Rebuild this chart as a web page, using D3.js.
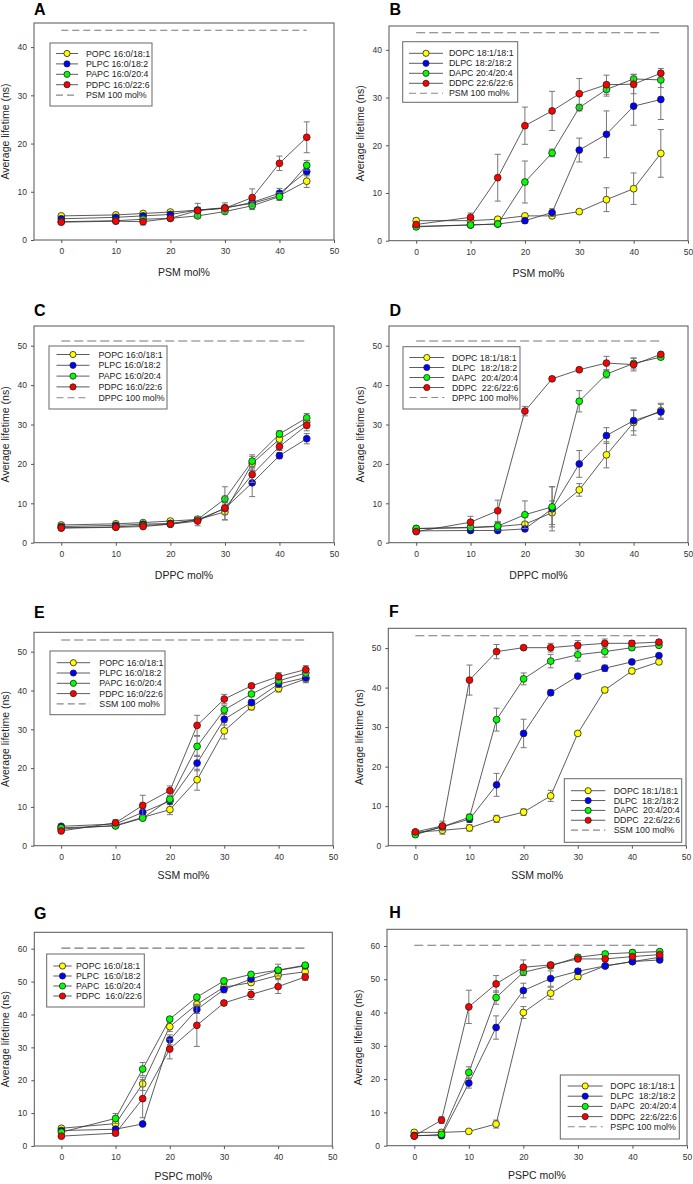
<!DOCTYPE html>
<html><head><meta charset="utf-8">
<script src="https://cdn.jsdelivr.net/npm/d3@7"></script>
<style>
body{margin:0;background:#fff}
svg{display:block}
text{font-family:"Liberation Sans",Arial,Helvetica,sans-serif}
</style>
</head><body>
<svg id="c" width="693" height="1184"></svg>
<script>
// ---------- data ----------
const seriesColors = ["#ffff00","#0000ff","#00ff00","#ff0000"];
const xTickValues = [0,10,20,30,40,50];
const yTicks45 = [0,10,20,30,40];
const yTicks55 = [0,10,20,30,40,50];
const yTicks65 = [0,10,20,30,40,50,60];

const xNo5 = [0,10,15,20,25,30,35,40,45];
const xWith5 = [0,5,10,15,20,25,30,35,40,45];

const namesMixed = ["POPC 16:0/18:1","PLPC 16:0/18:2","PAPC 16:0/20:4","PDPC 16:0/22:6"];
const namesMixedG = ["POPC 16:0/18:1","PLPC  16:0/18:2","PAPC  16:0/20:4","PDPC  16:0/22:6"];
const namesDi = ["DOPC 18:1/18:1","DLPC 18:2/18:2","DAPC 20:4/20:4","DDPC 22:6/22:6"];
const namesDi2 = ["DOPC 18:1/18:1","DLPC  18:2/18:2","DAPC  20:4/20:4","DDPC  22:6/22:6"];

// Panel A (PSM)
const aPOPC = [5.0,5.2,5.5,5.8,6.2,6.7,7.6,9.2,12.2];
const aPOPCe = [0.3,0.3,0.3,0.3,0.5,0.5,0.6,0.7,1.3];
const aPLPC = [4.4,4.7,5.0,5.3,6.2,6.6,7.8,9.7,14.2];
const aPLPCe = [0.2,0.2,0.3,0.3,0.4,0.4,0.6,1.0,0.9];
const aPAPC = [3.8,4.0,4.3,4.5,5.0,5.9,7.1,9.0,15.5];
const aPAPCe = [0.2,0.2,0.3,0.3,0.4,0.4,0.8,0.8,1.0];
const aPDPC = [3.7,3.9,3.8,4.5,6.1,6.6,8.8,15.9,21.3];
const aPDPCe = [0.2,0.3,0.7,0.3,1.5,1.1,1.8,1.5,3.2];
const aRef = 43.5;

// Panel B (PSM)
const bDOPC = [4.2,4.2,4.5,5.2,5.2,6.1,8.6,10.9,18.3];
const bDOPCe = [0.5,0.6,0.4,0.4,0.4,0.3,2.5,3.3,5.0];
const bDLPC = [3.0,3.3,3.5,4.2,5.9,19.0,22.3,28.2,29.6];
const bDLPCe = [0.2,0.3,0.3,0.5,0.8,2.5,4.9,4.0,4.2];
const bDAPC = [2.9,3.3,3.5,12.3,18.4,27.9,31.7,33.9,33.7];
const bDAPCe = [0.2,0.3,0.3,4.4,0.8,0.7,1.4,1.0,1.6];
const bDDPC = [3.4,4.9,13.2,24.1,27.2,30.8,32.7,32.8,35.1];
const bDDPCe = [0.3,0.9,4.9,3.9,4.1,3.2,2.0,2.0,1.0];
const bRef = 43.6;

// Panel C (DPPC)
const cPOPC = [4.5,4.8,5.1,5.5,5.9,7.8,20.1,26.3,30.6];
const cPOPCe = [0.3,0.3,0.3,0.3,0.6,2.0,1.8,1.0,1.5];
const cPLPC = [4.1,4.4,4.7,4.9,5.8,8.7,15.2,22.1,26.4];
const cPLPCe = [0.2,0.2,0.3,0.3,0.5,1.5,3.5,0.8,1.3];
const cPAPC = [3.8,4.0,4.4,4.7,5.9,11.1,20.7,27.6,31.7];
const cPAPCe = [0.2,0.2,0.3,0.3,0.7,3.1,1.6,0.8,1.1];
const cPDPC = [3.7,3.9,4.1,4.7,5.5,8.8,17.3,24.4,29.8];
const cPDPCe = [0.2,0.2,0.3,0.3,1.2,3.0,2.0,1.0,1.4];
const cRef = 51.2;

// Panel D (DPPC)
const dDOPC = [3.6,3.8,4.1,4.7,7.6,13.4,22.3,30.5,33.5];
const dDOPCe = [0.3,0.4,1.0,0.5,3.0,1.6,3.3,3.2,1.9];
const dDLPC = [3.0,3.1,3.1,3.5,8.6,20.0,27.2,31.0,33.2];
const dDLPCe = [0.3,0.3,0.3,0.4,5.6,3.4,2.0,2.6,1.9];
const dDAPC = [3.6,3.9,4.2,7.1,9.1,35.9,42.8,45.5,47.1];
const dDAPCe = [0.3,0.4,1.0,3.5,5.1,2.7,1.0,1.4,0.6];
const dDDPC = [2.8,5.2,8.1,33.4,41.6,43.9,45.6,45.2,47.8];
const dDDPCe = [0.3,1.5,2.7,1.2,0.5,0.4,1.7,1.6,0.5];
const dRef = 51.2;

// Panel E (SSM)
const ePOPC = [4.3,5.2,7.3,9.3,17.0,29.6,35.8,40.5,43.0];
const ePOPCe = [0.3,0.4,0.5,1.3,2.7,2.1,0.8,0.9,1.0];
const ePLPC = [5.0,5.6,8.6,11.5,21.3,32.6,36.9,41.7,43.3];
const ePLPCe = [0.3,0.4,1.0,0.8,2.0,1.5,0.8,0.9,1.0];
const ePAPC = [4.6,5.1,7.1,12.0,25.6,35.0,39.1,42.5,44.5];
const ePAPCe = [0.3,0.4,0.5,0.8,2.6,1.2,0.6,0.8,0.9];
const ePDPC = [3.8,5.9,10.4,14.2,31.0,37.8,41.2,43.6,45.4];
const ePDPCe = [0.3,0.8,2.6,1.2,2.6,1.2,0.4,1.0,1.0];
const eRef = 53.0;

// Panel F (SSM)
const fDOPC = [3.4,3.9,4.5,6.8,8.5,12.6,28.4,39.4,44.2,46.5];
const fDOPCe = [0.3,1.0,0.8,0.9,0.8,1.4,0.4,0.6,0.7,0.6];
const fDLPC = [3.0,4.8,6.7,15.4,28.4,38.7,42.9,44.9,46.5,48.1];
const fDLPCe = [0.3,0.6,0.8,2.9,3.6,0.7,0.5,0.8,0.5,0.5];
const fDAPC = [2.8,4.8,7.2,31.9,42.2,46.7,48.3,49.1,50.1,50.7];
const fDAPCe = [0.3,0.6,0.8,2.9,1.5,1.7,1.6,1.4,0.6,0.6];
const fDDPC = [3.5,5.0,41.9,49.1,50.1,50.1,50.7,51.2,51.2,51.5];
const fDDPCe = [0.3,1.2,3.8,1.8,0.4,1.1,1.2,1.1,0.7,0.5];
const fRef = 53.1;

// Panel G (PSPC)
const gPOPC = [5.4,6.8,18.9,36.3,43.1,48.3,49.7,51.9,53.0];
const gPOPCe = [0.4,0.6,2.0,1.5,1.2,0.8,0.6,0.8,1.0];
const gPLPC = [4.7,5.1,6.7,32.3,41.5,47.6,50.8,53.4,54.8];
const gPLPCe = [0.3,0.5,0.4,1.5,1.2,1.0,0.8,0.8,0.5];
const gPAPC = [4.2,8.4,23.4,38.6,45.3,50.2,52.2,53.5,55.0];
const gPAPCe = [0.3,1.5,2.0,0.6,0.6,0.8,0.6,1.8,0.6];
const gPDPC = [3.0,3.9,14.4,29.5,36.7,43.5,46.1,48.5,51.4];
const gPDPCe = [0.3,0.6,5.8,3.0,6.4,0.6,1.5,2.1,1.0];
const gRef = 60.2;

// Panel H (PSPC)
const hDOPC = [4.0,4.0,4.3,6.5,40.0,45.8,50.8,54.0,55.3,56.6];
const hDOPCe = [0.3,0.3,0.4,1.2,1.8,1.8,0.8,0.6,0.6,0.6];
const hDLPC = [3.1,3.0,18.8,35.5,46.6,50.2,52.4,54.0,55.3,55.8];
const hDLPCe = [0.3,0.3,1.5,3.5,2.2,2.3,0.8,0.6,0.6,0.6];
const hDAPC = [2.9,3.4,22.0,44.5,52.1,54.0,56.6,57.6,58.0,58.3];
const hDAPCe = [0.3,0.4,1.7,2.0,1.0,0.6,0.6,0.6,0.8,0.5];
const hDDPC = [2.9,7.7,41.7,48.6,53.6,54.3,56.1,56.1,56.8,57.4];
const hDDPCe = [0.3,1.0,5.0,2.5,2.2,0.6,0.6,0.6,0.6,0.6];
const hRef = 60.2;

// ---------- panel setup (layout) ----------
const panels = [
 {id:"A", xs:xNo5, vals:[aPOPC,aPLPC,aPAPC,aPDPC], errs:[aPOPCe,aPLPCe,aPAPCe,aPDPCe], names:namesMixed, refName:"PSM 100 mol%", ref:aRef,
  xTitle:"PSM mol%", yMax:45, yTicks:yTicks45, frame:[34,23,334,240], letter:[34,15], xtOff:36,
  leg:{x:50,y:43,w:102,h:63,r0:53.5,step:10.4,l1:56,l2:78,tx:86}, dash:"7,4"},
 {id:"B", xs:xNo5, vals:[bDOPC,bDLPC,bDAPC,bDDPC], errs:[bDOPCe,bDLPCe,bDAPCe,bDDPCe], names:namesDi, refName:"PSM 100 mol%", ref:bRef,
  xTitle:"PSM mol%", yMax:45, yTicks:yTicks45, frame:[389,26,688,240.7], letter:[389.5,15], xtOff:36,
  leg:{x:402.7,y:41.7,w:115,h:60.6,r0:53.3,step:10,l1:409,l2:443,tx:449}, dash:"9,4"},
 {id:"C", xs:xNo5, vals:[cPOPC,cPLPC,cPAPC,cPDPC], errs:[cPOPCe,cPLPCe,cPAPCe,cPDPCe], names:namesMixed, refName:"DPPC 100 mol%", ref:cRef,
  xTitle:"DPPC mol%", yMax:55, yTicks:yTicks55, frame:[34,326,334,542.7], letter:[34,316], xtOff:36,
  leg:{x:49,y:346,w:118,h:63,r0:354.5,step:10.8,l1:56.5,l2:89.5,tx:98.5}, dash:"9,4"},
 {id:"D", xs:xNo5, vals:[dDOPC,dDLPC,dDAPC,dDDPC], errs:[dDOPCe,dDLPCe,dDAPCe,dDDPCe], names:namesDi2, refName:"DPPC 100 mol%", ref:dRef,
  xTitle:"DPPC mol%", yMax:55, yTicks:yTicks55, frame:[389,326,688,542.7], letter:[389.5,316], xtOff:36,
  leg:{x:403,y:346.7,w:117,h:62.3,r0:357.5,step:10,l1:409.3,l2:444.3,tx:452}, dash:"9,4"},
 {id:"E", xs:xNo5, vals:[ePOPC,ePLPC,ePAPC,ePDPC], errs:[ePOPCe,ePLPCe,ePAPCe,ePDPCe], names:namesMixed, refName:"SSM 100 mol%", ref:eRef,
  xTitle:"SSM mol%", yMax:55, yTicks:yTicks55, frame:[34,632.3,333,845.7], letter:[34,617.7], xtOff:33.5,
  leg:{x:50,y:651,w:115,h:63.7,r0:662.7,step:10.3,l1:56.7,l2:90,tx:99.3}, dash:"9,4"},
 {id:"F", xs:xWith5, vals:[fDOPC,fDLPC,fDAPC,fDDPC], errs:[fDOPCe,fDLPCe,fDAPCe,fDDPCe], names:namesDi2, refName:"SSM 100 mol%", ref:fRef,
  xTitle:"SSM mol%", yMax:55, yTicks:yTicks55, frame:[388.3,628.3,686,845.7], letter:[389,617], xtOff:33.5,
  leg:{x:564.3,y:778.7,w:117.4,h:63.6,r0:790.7,step:9.85,l1:571,l2:605.3,tx:613.7}, dash:"9,4"},
 {id:"G", xs:xNo5, vals:[gPOPC,gPLPC,gPAPC,gPDPC], errs:[gPOPCe,gPLPCe,gPAPCe,gPDPCe], names:namesMixedG, refName:null, ref:gRef,
  xTitle:"PSPC mol%", yMax:65, yTicks:yTicks65, frame:[34.3,932.3,332.3,1146], letter:[34,918.7], xtOff:33.5,
  leg:{x:46.7,y:954,w:97.6,h:53,r0:966,step:10,l1:53.3,l2:71.7,tx:76}, dash:"9,4"},
 {id:"H", xs:xWith5, vals:[hDOPC,hDLPC,hDAPC,hDDPC], errs:[hDOPCe,hDLPCe,hDAPCe,hDDPCe], names:namesDi2, refName:"PSPC 100 mol%", ref:hRef,
  xTitle:"PSPC mol%", yMax:65, yTicks:yTicks65, frame:[387,929.3,687,1145.7], letter:[389.3,917.7], xtOff:33.5,
  leg:{x:560.3,y:1075,w:119,h:64,r0:1086,step:10.2,l1:567.7,l2:602.7,tx:610.3}, dash:"9,4"}
];

const svg = d3.select("#c");
const axisCol = "#555";
const lineCol = "#333";
const errCol = "#777";

panels.forEach(p => {
  const [L,T,R,B] = p.frame;
  const x = d3.scaleLinear().domain([-5,50]).range([L,R]);
  const y = d3.scaleLinear().domain([0,p.yMax]).range([B,T]);
  const g = svg.append("g");

  // panel letter
  g.append("text").attr("x",p.letter[0]).attr("y",p.letter[1])
    .attr("font-size",16).attr("font-weight","bold").attr("fill","#000").text(p.id);

  // axes
  const xAxis = d3.axisBottom(x).tickValues(xTickValues).tickSize(3).tickPadding(5).tickFormat(d3.format("d"));
  const yAxis = d3.axisLeft(y).tickValues(p.yTicks).tickSize(3).tickPadding(4).tickFormat(d3.format("d"));
  const gx = g.append("g").attr("transform",`translate(0,${B})`).call(xAxis);
  const gy = g.append("g").attr("transform",`translate(${L},0)`).call(yAxis);
  [gx,gy].forEach(a => {
    a.select(".domain").remove();
    a.selectAll(".tick line").attr("stroke",axisCol);
    a.selectAll(".tick text").attr("fill","#333").attr("font-size",8.5)
      .attr("font-family","'Liberation Sans',Arial,sans-serif");
  });

  // frame
  g.append("rect").attr("x",L).attr("y",T).attr("width",R-L).attr("height",B-T)
    .attr("fill","none").attr("stroke",axisCol).attr("stroke-width",1);

  // axis titles
  g.append("text").attr("x",(L+R)/2).attr("y",B+p.xtOff).attr("text-anchor","middle")
    .attr("font-size",10.5).attr("fill","#222").text(p.xTitle);
  const yx = L - 25;
  g.append("text").attr("transform",`translate(${yx},${(T+B)/2}) rotate(-90)`)
    .attr("text-anchor","middle").attr("font-size",10.5).attr("fill","#222").text("Average lifetime (ns)");

  // reference dashed line
  g.append("line").attr("x1",x(0)).attr("x2",x(45)).attr("y1",y(p.ref)).attr("y2",y(p.ref))
    .attr("stroke","#777").attr("stroke-width",1.1).attr("stroke-dasharray",p.dash);

  // series
  const line = d3.line().x(d=>x(d.x)).y(d=>y(d.v));
  p.vals.forEach((vals,si) => {
    const pts = vals.map((v,i)=>({x:p.xs[i], v:v, e:p.errs[si][i]}));
    const sg = g.append("g");
    sg.append("path").datum(pts).attr("d",line).attr("fill","none")
      .attr("stroke",lineCol).attr("stroke-width",0.8);
    const eb = sg.selectAll(".eb").data(pts).join("g");
    eb.append("line").attr("x1",d=>x(d.x)).attr("x2",d=>x(d.x))
      .attr("y1",d=>y(d.v-d.e)).attr("y2",d=>y(d.v+d.e)).attr("stroke",errCol).attr("stroke-width",1);
    eb.append("line").attr("x1",d=>x(d.x)-3).attr("x2",d=>x(d.x)+3)
      .attr("y1",d=>y(d.v+d.e)).attr("y2",d=>y(d.v+d.e)).attr("stroke",errCol).attr("stroke-width",1);
    eb.append("line").attr("x1",d=>x(d.x)-3).attr("x2",d=>x(d.x)+3)
      .attr("y1",d=>y(d.v-d.e)).attr("y2",d=>y(d.v-d.e)).attr("stroke",errCol).attr("stroke-width",1);
    sg.selectAll("circle").data(pts).join("circle")
      .attr("cx",d=>x(d.x)).attr("cy",d=>y(d.v)).attr("r",3.4)
      .attr("fill",seriesColors[si]).attr("stroke","#222").attr("stroke-width",0.8);
  });

  // legend
  const lg = p.leg;
  const leg = g.append("g");
  leg.append("rect").attr("x",lg.x).attr("y",lg.y).attr("width",lg.w).attr("height",lg.h)
    .attr("fill","#fff").attr("stroke","#666").attr("stroke-width",1);
  const entries = p.names.map((n,i)=>({name:n, color:seriesColors[i], dashed:false}));
  if (p.refName) entries.push({name:p.refName, color:null, dashed:true});
  entries.forEach((en,i) => {
    const ry = lg.r0 + i*lg.step;
    const ln = leg.append("line").attr("x1",lg.l1).attr("x2",lg.l2).attr("y1",ry).attr("y2",ry);
    if (en.dashed) {
      ln.attr("stroke","#888").attr("stroke-width",1.1).attr("stroke-dasharray","7,4");
    } else {
      ln.attr("stroke",lineCol).attr("stroke-width",0.8);
      leg.append("circle").attr("cx",(lg.l1+lg.l2)/2).attr("cy",ry).attr("r",3.1)
        .attr("fill",en.color).attr("stroke","#222").attr("stroke-width",0.8);
    }
    leg.append("text").attr("x",lg.tx).attr("y",ry).attr("dy","0.35em")
      .attr("font-size",8.8).attr("fill","#222").attr("xml:space","preserve")
      .style("white-space","pre").text(en.name);
  });
});
</script>
</body></html>
